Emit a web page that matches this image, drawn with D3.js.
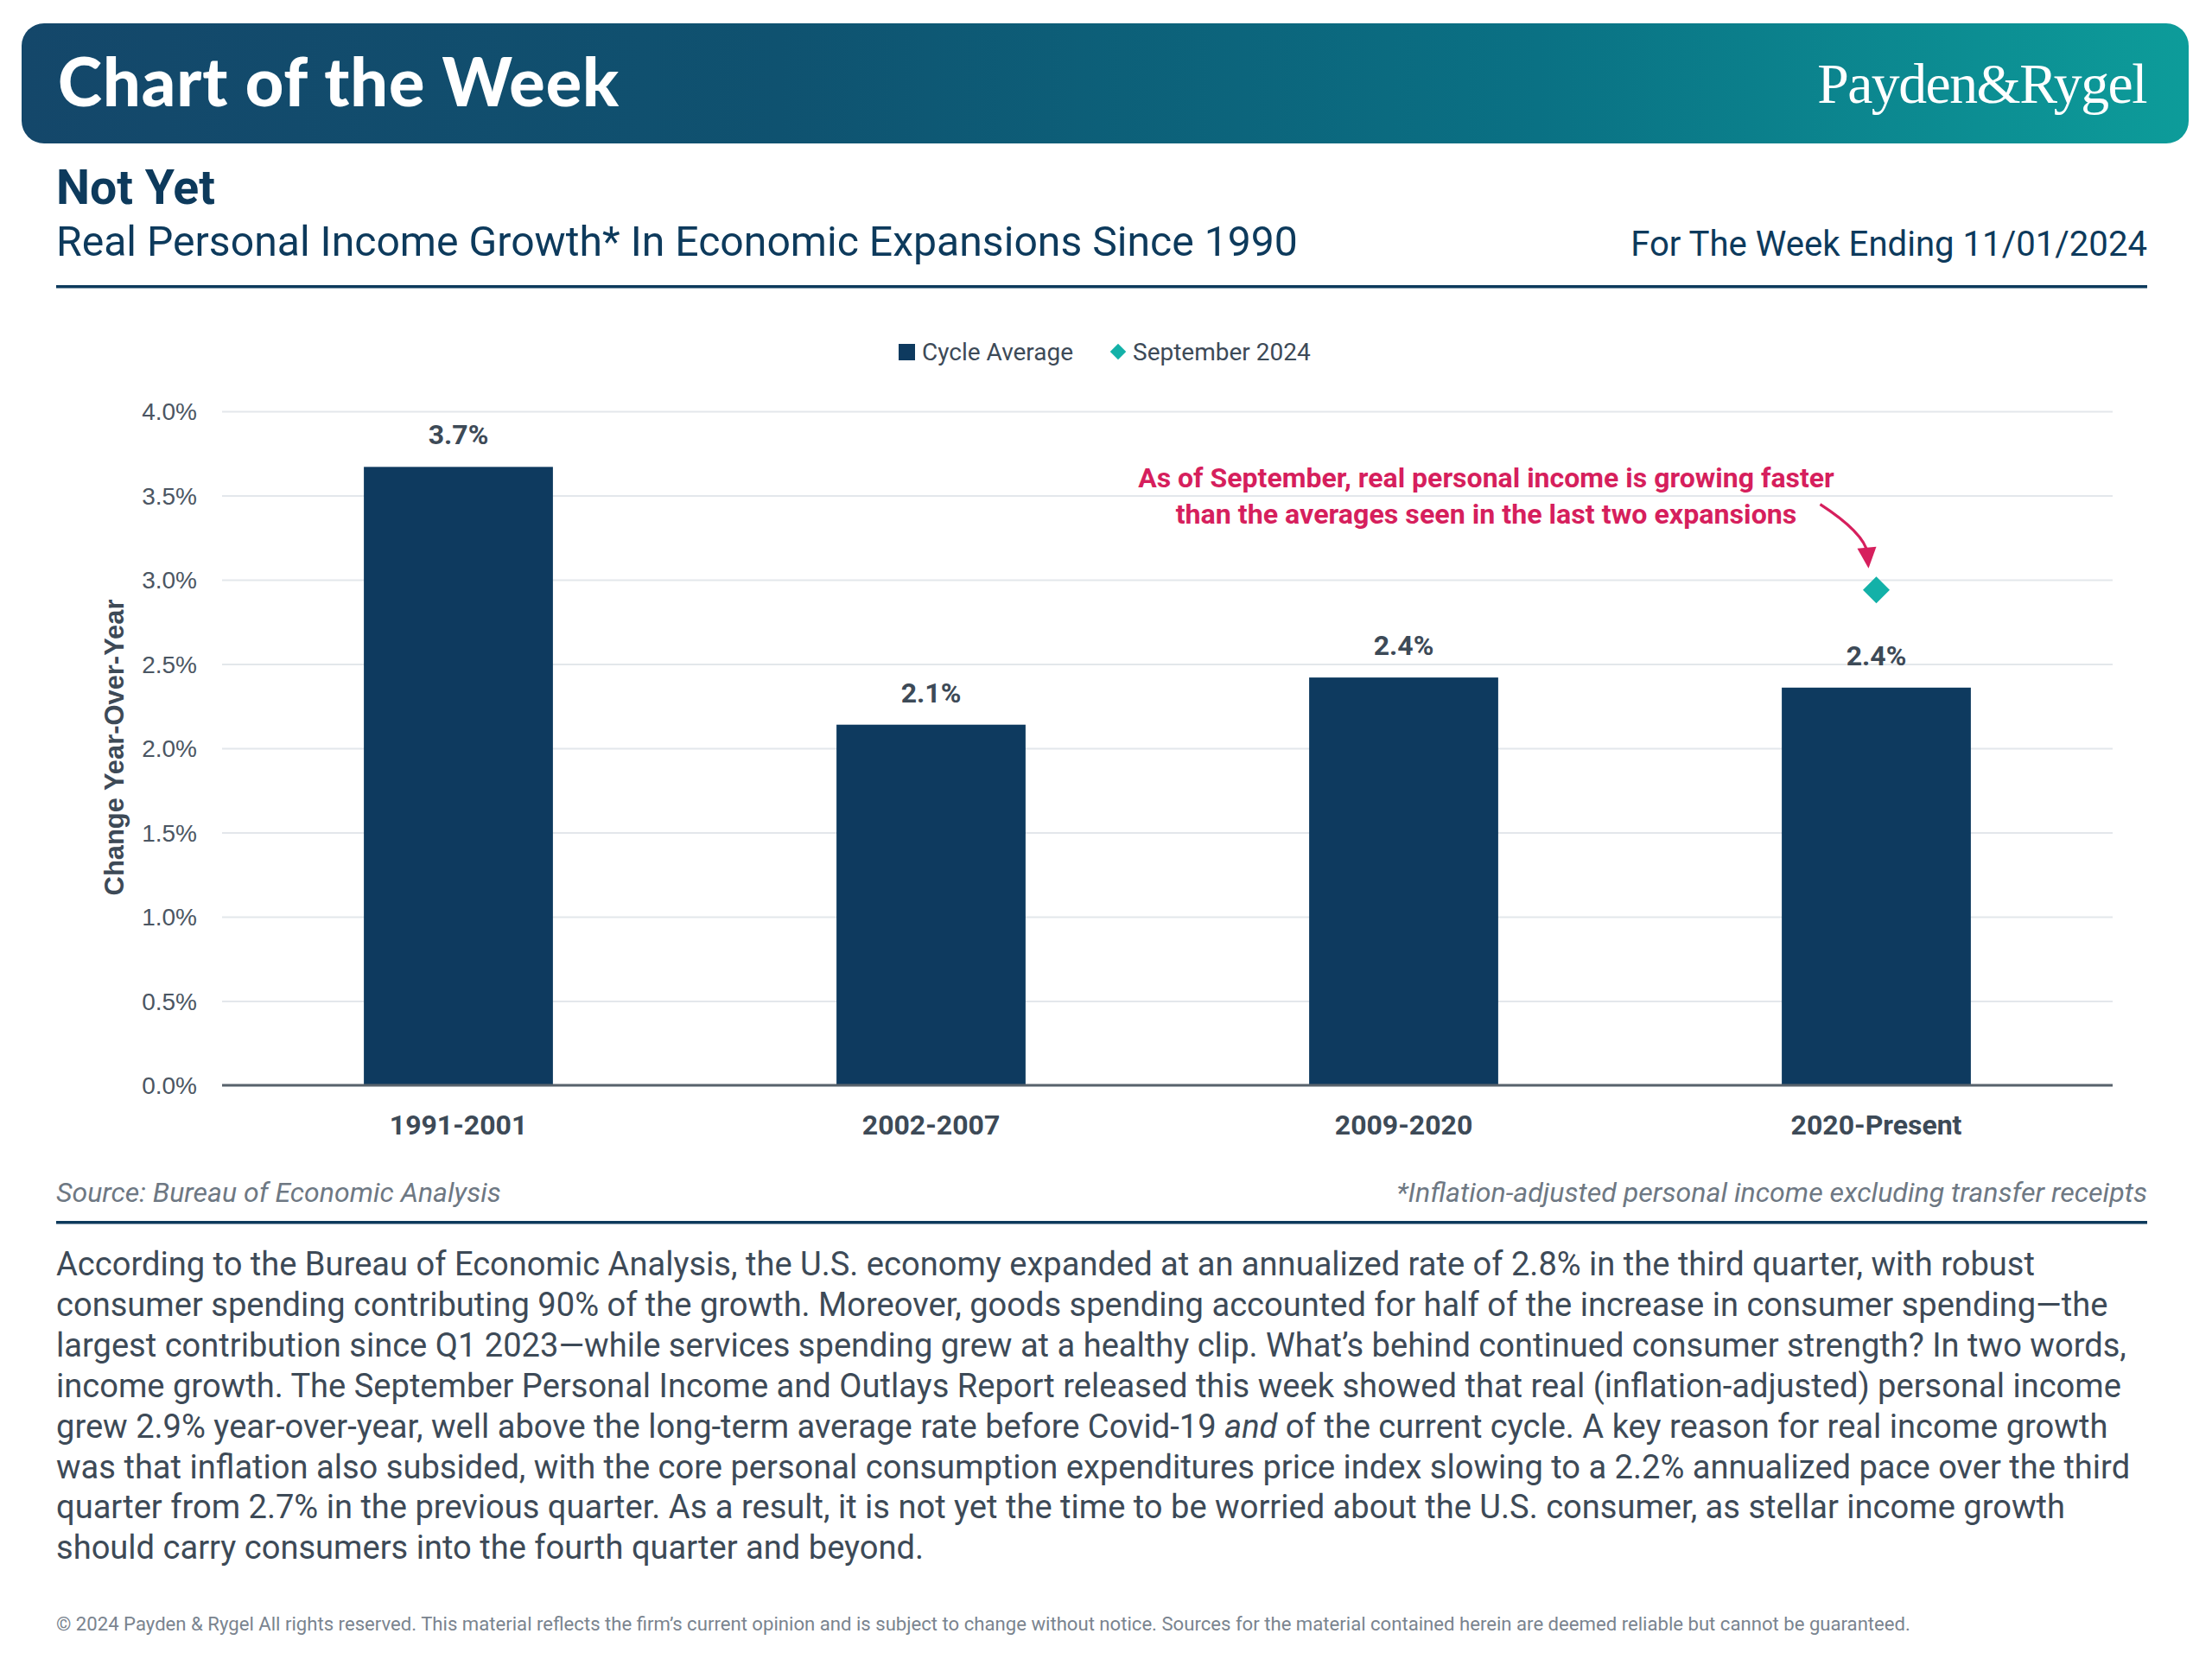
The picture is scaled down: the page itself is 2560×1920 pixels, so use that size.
<!DOCTYPE html>
<html>
<head>
<meta charset="utf-8">
<script src="https://cdn.jsdelivr.net/npm/d3@7"></script>
<style>
  html, body { margin: 0; padding: 0; background: #ffffff; }
  svg { display: block; }
</style>
</head>
<body>
<script>
// ---------------- DATA ----------------
const categories = ["1991-2001", "2002-2007", "2009-2020", "2020-Present"];
const cycleAverage = [3.67, 2.14, 2.42, 2.36];
const septemberCategory = ["2020-Present"];
const september2024 = [2.94];
const yTicks = [0, 0.5, 1.0, 1.5, 2.0, 2.5, 3.0, 3.5, 4.0];
const seriesNames = ["Cycle Average", "September 2024"];

const bannerTitle = "Chart of the Week";
const brand = "Payden&Rygel";
const chartTitle = "Not Yet";
const chartSubtitle = "Real Personal Income Growth* In Economic Expansions Since 1990";
const weekEnding = "For The Week Ending 11/01/2024";
const yAxisTitle = "Change Year-Over-Year";
const annotationLines = [
  "As of September, real personal income is growing faster",
  "than the averages seen in the last two expansions"
];
const sourceNote = "Source: Bureau of Economic Analysis";
const footNote = "*Inflation-adjusted personal income excluding transfer receipts";
const bodyLines = [
  ["According to the Bureau of Economic Analysis, the U.S. economy expanded at an annualized rate of 2.8% in the third quarter, with robust"],
  ["consumer spending contributing 90% of the growth. Moreover, goods spending accounted for half of the increase in consumer spending\u2014the"],
  ["largest contribution since Q1 2023\u2014while services spending grew at a healthy clip. What\u2019s behind continued consumer strength? In two words,"],
  ["income growth. The September Personal Income and Outlays Report released this week showed that real (inflation-adjusted) personal income"],
  ["grew 2.9% year-over-year, well above the long-term average rate before Covid-19 ", "and", " of the current cycle. A key reason for real income growth"],
  ["was that inflation also subsided, with the core personal consumption expenditures price index slowing to a 2.2% annualized pace over the third"],
  ["quarter from 2.7% in the previous quarter. As a result, it is not yet the time to be worried about the U.S. consumer, as stellar income growth"],
  ["should carry consumers into the fourth quarter and beyond."]
];
const copyright = "\u00A9 2024 Payden & Rygel All rights reserved. This material reflects the firm\u2019s current opinion and is subject to change without notice. Sources for the material contained herein are deemed reliable but cannot be guaranteed.";

// ---------------- STYLE ----------------
const NAVY = "#0d3a5c";
const BAR = "#0e3a5f";
const TEAL = "#13b1a8";
const CRIMSON = "#d61f5d";
const SLATE = "#3d4a57";
const GRAY = "#6e7883";
const SANS = "Roboto, 'Liberation Sans', Arial, sans-serif";
const ARIAL = "'Liberation Sans', Arial, sans-serif";

const W = 2560, H = 1920;
const svg = d3.select("body").append("svg")
  .attr("width", W).attr("height", H)
  .attr("viewBox", `0 0 ${W} ${H}`);

function fitWidth(node, target) {
  const L = node.getComputedTextLength();
  const fs = parseFloat(node.getAttribute("font-size"));
  node.setAttribute("font-size", (fs * target / L).toFixed(2));
}

// ---------------- BANNER ----------------
const defs = svg.append("defs");
const grad = defs.append("linearGradient").attr("id", "bannerGrad")
  .attr("x1", "0%").attr("x2", "100%").attr("y1", "0%").attr("y2", "0%");
grad.append("stop").attr("offset", "0%").attr("stop-color", "#14476a");
grad.append("stop").attr("offset", "35%").attr("stop-color", "#0f5270");
grad.append("stop").attr("offset", "70%").attr("stop-color", "#0a7184");
grad.append("stop").attr("offset", "100%").attr("stop-color", "#0d9c9a");

svg.append("rect")
  .attr("x", 25).attr("y", 27).attr("width", 2508).attr("height", 139)
  .attr("rx", 26).attr("ry", 26)
  .attr("fill", "url(#bannerGrad)");

const bt = svg.append("text")
  .attr("x", 67).attr("y", 123)
  .attr("font-family", "Lato, 'Open Sans', sans-serif")
  .attr("font-weight", 900).attr("font-size", 74)
  .attr("letter-spacing", 1)
  .attr("fill", "#ffffff").text(bannerTitle);
fitWidth(bt.node(), 651);

const br = svg.append("text")
  .attr("x", 2484).attr("y", 119).attr("text-anchor", "end")
  .attr("font-family", "'Liberation Serif', 'DejaVu Serif', serif")
  .attr("font-size", 70).attr("letter-spacing", -1.5)
  .attr("fill", "#ffffff").text(brand);
fitWidth(br.node(), 382);

// ---------------- HEADINGS ----------------
const t1 = svg.append("text")
  .attr("x", 65).attr("y", 236)
  .attr("font-family", SANS).attr("font-weight", 700).attr("font-size", 50)
  .attr("fill", NAVY).text(chartTitle);
fitWidth(t1.node(), 184);

const t2 = svg.append("text")
  .attr("x", 65).attr("y", 296)
  .attr("font-family", SANS).attr("font-size", 44)
  .attr("fill", NAVY).text(chartSubtitle);
fitWidth(t2.node(), 1437);

const t3 = svg.append("text")
  .attr("x", 2485).attr("y", 296).attr("text-anchor", "end")
  .attr("font-family", SANS).attr("font-size", 44)
  .attr("fill", NAVY).text(weekEnding);
fitWidth(t3.node(), 598);

svg.append("rect").attr("x", 65).attr("y", 330).attr("width", 2420).attr("height", 3.5).attr("fill", NAVY);

// ---------------- CHART ----------------
const y = d3.scaleLinear().domain([0, 4]).range([1256, 476]);
const x = d3.scaleBand().domain(categories).range([257, 2445])
  .paddingInner(0.6).paddingOuter(0.3);

// gridlines
const grid = svg.append("g").attr("transform", "translate(257,0)")
  .call(d3.axisLeft(y).tickValues(yTicks).tickSize(-(2445 - 257)).tickFormat(""));
grid.select(".domain").remove();
grid.selectAll(".tick line").attr("stroke", "#e3e7eb").attr("stroke-width", 2.2);

// y tick labels
const yAxis = svg.append("g").attr("transform", "translate(228,0)")
  .call(d3.axisLeft(y).tickValues(yTicks).tickSize(0).tickPadding(0)
    .tickFormat(d => d.toFixed(1) + "%"));
yAxis.select(".domain").remove();
yAxis.selectAll(".tick text")
  .attr("font-family", ARIAL).attr("font-size", 28)
  .attr("fill", "#4b5663").attr("dy", "0.35em");

// bars
svg.append("g").selectAll("rect")
  .data(categories.map((c, i) => ({ c, v: cycleAverage[i] })))
  .join("rect")
  .attr("x", d => x(d.c)).attr("width", x.bandwidth())
  .attr("y", d => y(d.v)).attr("height", d => y(0) - y(d.v))
  .attr("fill", BAR);

// baseline axis
const xAxis = svg.append("g").attr("transform", `translate(0,${y(0)})`)
  .call(d3.axisBottom(x).tickSize(0).tickPadding(0));
xAxis.select(".domain").attr("stroke", "#58626c").attr("stroke-width", 3)
  .attr("d", `M257,0H2445`);
xAxis.selectAll(".tick text")
  .attr("y", 57).attr("dy", 0)
  .attr("font-family", SANS).attr("font-weight", 700).attr("font-size", 32)
  .attr("fill", SLATE);

// data labels
svg.append("g").selectAll("text")
  .data(categories.map((c, i) => ({ c, v: cycleAverage[i] })))
  .join("text")
  .attr("x", d => x(d.c) + x.bandwidth() / 2)
  .attr("y", d => y(d.v) - 26)
  .attr("text-anchor", "middle")
  .attr("font-family", SANS).attr("font-weight", 700).attr("font-size", 32)
  .attr("fill", SLATE)
  .text(d => d.v.toFixed(1) + "%");

// September 2024 diamond
const sept = septemberCategory.map((c, i) => ({ c, v: september2024[i] }));
svg.append("g").selectAll("path")
  .data(sept)
  .join("path")
  .attr("d", d3.symbol(d3.symbolSquare, 480)())
  .attr("transform", d => `translate(${x(d.c) + x.bandwidth() / 2},${y(d.v)}) rotate(45)`)
  .attr("fill", TEAL);

// y-axis title
const yt = svg.append("text")
  .attr("transform", `translate(143,865) rotate(-90)`)
  .attr("text-anchor", "middle")
  .attr("font-family", ARIAL).attr("font-weight", 700).attr("font-size", 31)
  .attr("fill", SLATE).text(yAxisTitle);
fitWidth(yt.node(), 343);

// legend
const legend = svg.append("g").attr("font-family", SANS).attr("font-size", 28).attr("fill", SLATE);
legend.append("rect").attr("x", 1040).attr("y", 398).attr("width", 19).attr("height", 19).attr("fill", BAR);
const lt1 = legend.append("text").attr("x", 1067).attr("y", 417).text(seriesNames[0]);
fitWidth(lt1.node(), 176);
legend.append("path").attr("d", d3.symbol(d3.symbolSquare, 170)())
  .attr("transform", "translate(1294,407) rotate(45)").attr("fill", TEAL);
const lt2 = legend.append("text").attr("x", 1311).attr("y", 417).text(seriesNames[1]);
fitWidth(lt2.node(), 211);

// annotation
const annW = [806, 719];
annotationLines.forEach((s, i) => {
  const t = svg.append("text")
    .attr("x", 1720).attr("y", 564 + i * 42).attr("text-anchor", "middle")
    .attr("font-family", SANS).attr("font-weight", 700).attr("font-size", 30)
    .attr("fill", CRIMSON).text(s);
  fitWidth(t.node(), annW[i]);
});
// arrow pointing to the diamond
const dx = x(sept[0].c) + x.bandwidth() / 2, dy = y(sept[0].v);
svg.append("path")
  .attr("d", `M${dx - 65},${dy - 99} Q${dx - 14},${dy - 66} ${dx - 10},${dy - 42}`)
  .attr("fill", "none").attr("stroke", CRIMSON).attr("stroke-width", 3.2);
svg.append("path")
  .attr("d", `M${dx - 9},${dy - 25} L${dx - 22},${dy - 48} L${dx},${dy - 50} Z`)
  .attr("fill", CRIMSON);

// ---------------- SOURCES ----------------
const s1 = svg.append("text").attr("x", 65).attr("y", 1391)
  .attr("font-family", SANS).attr("font-style", "italic").attr("font-size", 27)
  .attr("fill", GRAY).text(sourceNote);
fitWidth(s1.node(), 515);
const s2 = svg.append("text").attr("x", 2485).attr("y", 1391).attr("text-anchor", "end")
  .attr("font-family", SANS).attr("font-style", "italic").attr("font-size", 27)
  .attr("fill", GRAY).text(footNote);
fitWidth(s2.node(), 869);

svg.append("rect").attr("x", 65).attr("y", 1413).attr("width", 2420).attr("height", 3.5).attr("fill", NAVY);

// ---------------- BODY ----------------
const body = svg.append("g").attr("font-family", SANS).attr("font-size", 32).attr("fill", SLATE);
const bodyNodes = bodyLines.map((parts, i) => {
  const t = body.append("text").attr("x", 65).attr("y", 1476 + i * 46.9);
  parts.forEach((p, j) => {
    t.append("tspan").attr("font-style", j === 1 ? "italic" : "normal").text(p);
  });
  return t;
});
// scale body so that line 3 spans its reference width
const L3 = bodyNodes[2].node().getComputedTextLength();
const bodyFs = 32 * 2396 / L3;
body.attr("font-size", bodyFs.toFixed(2));

// ---------------- FOOTER ----------------
const ft = svg.append("text").attr("x", 65).attr("y", 1887)
  .attr("font-family", SANS).attr("font-size", 21)
  .attr("fill", "#7a848f").text(copyright);
fitWidth(ft.node(), 2146);
</script>
</body>
</html>
